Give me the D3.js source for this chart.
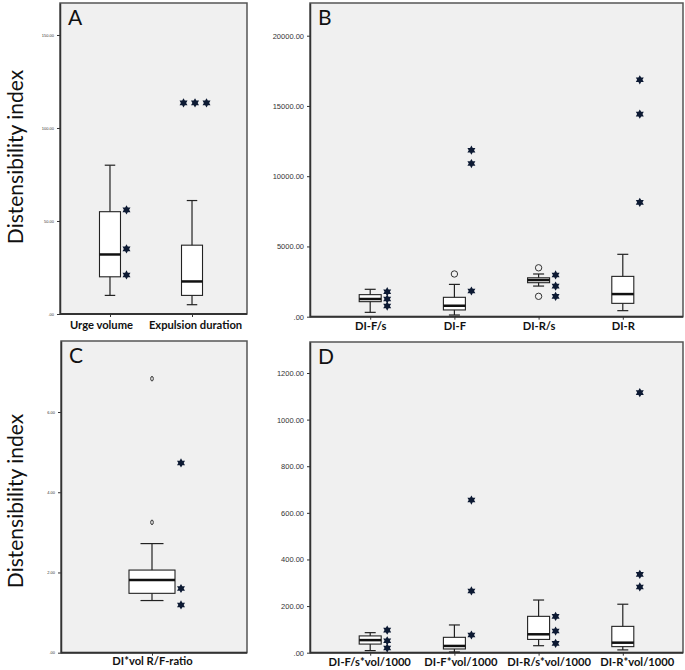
<!DOCTYPE html>
<html>
<head>
<meta charset="utf-8">
<script src="https://cdn.jsdelivr.net/npm/d3@7"></script>
<style>
  body { margin: 0; background: #fff; }
  svg { display: block; }
</style>
</head>
<body>
<div id="chart"></div>
<script>
// values: stats = [low whisker, Q1, median, Q3, high whisker]
const catsA = ["Urge volume", "Expulsion duration"];
const statsA = [[10, 20, 32, 55, 80], [5, 10, 17.5, 37, 61]];
const outliersA = [[], []];
const extremesA = [[56, 35, 21], [113.5, 113.5, 113.5]];
const ticksA = [0, 50, 100, 150];

const catsB = ["DI-F/s", "DI-F", "DI-R/s", "DI-R"];
const statsB = [[310, 1070, 1260, 1570, 1950], [120, 480, 780, 1380, 2300],
                [2180, 2420, 2610, 2770, 3040], [430, 950, 1610, 2870, 4440]];
const outliersB = [[], [3040], [3480, 1450], []];
const extremesB = [[1780, 1260, 760], [11850, 10900, 1830], [2970, 2180, 1450], [16860, 14420, 8140]];
const ticksB = [0, 5000, 10000, 15000, 20000];

const catsC = ["DI*vol R/F-ratio"];
const statsC = [[1.30, 1.48, 1.81, 2.06, 2.72]];
const outliersC = [[6.83, 3.25]];
const extremesC = [[4.73, 1.60, 1.19]];
const ticksC = [0, 2, 4, 6];

const catsD = ["DI-F/s*vol/1000", "DI-F*vol/1000", "DI-R/s*vol/1000", "DI-R*vol/1000"];
const statsD = [[9, 37, 54, 72, 86], [3, 16, 29, 66, 119], [30, 57, 79, 156, 226], [12, 26, 43, 113, 208]];
const outliersD = [[], [], [], []];
const extremesD = [[97, 51, 20], [655, 265, 76], [156, 93, 40], [1116, 336, 282]];
const ticksD = [0, 200, 400, 600, 800, 1000, 1200];

const W = 685, H = 670;
const svg = d3.select("#chart").append("svg").attr("width", W).attr("height", H);

// six-pointed star like the SPSS extreme marker
const hexagram = {
    draw(ctx, size) {
        const R = Math.sqrt(size) / 2, r = R / Math.sqrt(3);
        for (let i = 0; i < 12; i++) {
            const a = -Math.PI / 2 + i * Math.PI / 6;
            const rr = i % 2 ? r : R;
            if (i === 0) ctx.moveTo(rr * Math.cos(a), rr * Math.sin(a));
            else ctx.lineTo(rr * Math.cos(a), rr * Math.sin(a));
        }
        ctx.closePath();
    }
};

const fmt = v => d3.format(".2f")(v).replace(/^0\./, ".");

function drawPanel(p) {
    const g = svg.append("g");

    // panel background + frame
    g.append("rect")
        .attr("x", p.x0).attr("y", p.y0)
        .attr("width", p.x1 - p.x0).attr("height", p.yBase - p.y0)
        .attr("fill", "#f0f0f0").attr("stroke", "#555").attr("stroke-width", 1.5);

    const y = d3.scaleLinear().domain([0, p.yTop]).range([p.yBase, p.y0]);
    const x = d3.scalePoint().domain(p.cats).range(p.xr || [p.x0, p.x1]).padding(p.pad);

    // axes
    const ya = g.append("g").attr("transform", "translate(" + p.x0 + ",0)")
        .call(d3.axisLeft(y).tickValues(p.ticks).tickFormat(fmt).tickSize(3).tickSizeOuter(0));
    ya.select(".domain").attr("stroke", "#333").attr("stroke-width", 1.5);
    ya.selectAll(".tick line").attr("stroke", "#333");
    ya.selectAll("text").attr("fill", "#333")
        .style("font-family", "Liberation Sans, Arial, sans-serif")
        .style("font-size", p.tickFont + "px");

    const xa = g.append("g").attr("transform", "translate(0," + p.yBase + ")")
        .call(d3.axisBottom(x).tickSize(3).tickSizeOuter(0));
    xa.select(".domain").attr("d", "M" + p.x0 + ",0H" + p.x1)
        .attr("stroke", "#333").attr("stroke-width", 2);
    xa.selectAll(".tick line").attr("stroke", "#333");
    xa.selectAll("text").attr("dy", null).attr("y", p.labelY - p.yBase)
        .attr("dx", (d, i) => p.labelDx ? p.labelDx[i] : 0)
        .attr("fill", "#111")
        .style("font-family", "Lato, sans-serif")
        .style("font-weight", "bold")
        .style("font-size", "11.2px");

    const bw = p.boxW;
    const data = p.cats.map((c, i) => ({ c: c, s: p.stats[i], o: p.out[i], e: p.ext[i] }));
    const box = g.selectAll(".box").data(data).enter().append("g");

    // whiskers
    box.append("line")
        .attr("x1", d => x(d.c)).attr("x2", d => x(d.c))
        .attr("y1", d => y(d.s[4])).attr("y2", d => y(d.s[0]))
        .attr("stroke", "#222").attr("stroke-width", 1.2);
    [0, 4].forEach(k => {
        box.append("line")
            .attr("x1", d => x(d.c) - bw / 4).attr("x2", d => x(d.c) + bw / 4)
            .attr("y1", d => y(d.s[k])).attr("y2", d => y(d.s[k]))
            .attr("stroke", "#222").attr("stroke-width", 1.2);
    });
    box.append("rect")
        .attr("x", d => x(d.c) - bw / 2).attr("width", bw)
        .attr("y", d => y(d.s[3])).attr("height", d => y(d.s[1]) - y(d.s[3]))
        .attr("fill", "#fff").attr("stroke", "#222").attr("stroke-width", 1.1);
    box.append("line")
        .attr("x1", d => x(d.c) - bw / 2).attr("x2", d => x(d.c) + bw / 2)
        .attr("y1", d => y(d.s[2])).attr("y2", d => y(d.s[2]))
        .attr("stroke", "#111").attr("stroke-width", 2.5);

    // outliers (open circles)
    box.selectAll(".out").data(d => d.o.map(v => ({ c: d.c, v: v }))).enter()
        .append("ellipse")
        .attr("cx", d => x(d.c)).attr("cy", d => y(d.v))
        .attr("rx", p.circR[0]).attr("ry", p.circR[1])
        .attr("fill", "none").attr("stroke", "#333").attr("stroke-width", 1);

    // extremes (stars); equal values are spread sideways
    box.selectAll(".ext").data(d => {
        const groups = d3.group(d.e, v => v);
        const pts = [];
        groups.forEach(vals => {
            const n = vals.length;
            vals.forEach((v, i) => {
                const dx = n > 1 ? 3 + (i - (n - 1) / 2) * 11.5 : bw / 2 + 6;
                pts.push({ c: d.c, v: v, dx: dx });
            });
        });
        return pts;
    }).enter().append("path")
        .attr("transform", d => "translate(" + (x(d.c) + d.dx) + "," + y(d.v) + ")")
        .attr("d", d3.symbol().type(hexagram).size(p.starSize))
        .attr("fill", "#0d1a33");

    // panel letter
    g.append("text")
        .attr("x", p.x0 + 8).attr("y", p.y0 + 22)
        .style("font-family", "Lato, sans-serif").style("font-size", "21px")
        .attr("fill", "#111")
        .text(p.letter);
}

drawPanel({ letter: "A", cats: catsA, stats: statsA, out: outliersA, ext: extremesA, ticks: ticksA,
    x0: 60, x1: 247, xr: [57, 245], y0: 3, yBase: 314, yTop: 167.2, pad: 0.646, boxW: 21,
    tickFont: 4, labelY: 329, labelDx: [-9, 3], starSize: 85, circR: [3, 3] });
drawPanel({ letter: "B", cats: catsB, stats: statsB, out: outliersB, ext: extremesB, ticks: ticksB,
    x0: 310, x1: 683, y0: 3, yBase: 316.7, yTop: 22327, pad: 0.715, boxW: 22,
    tickFont: 7.5, labelY: 330, starSize: 85, circR: [3.2, 3.2] });
drawPanel({ letter: "C", cats: catsC, stats: statsC, out: outliersC, ext: extremesC, ticks: ticksC,
    x0: 61, x1: 247, xr: [61, 243], y0: 341, yBase: 652.7, yTop: 7.77, pad: 0.5, boxW: 46,
    tickFont: 4, labelY: 665, starSize: 85, circR: [1.3, 2.3] });
drawPanel({ letter: "D", cats: catsD, stats: statsD, out: outliersD, ext: extremesD, ticks: ticksD,
    x0: 310, x1: 683, y0: 342, yBase: 652.7, yTop: 1333, pad: 0.715, boxW: 22,
    tickFont: 7.5, labelY: 666, labelDx: [-1, 6, 10, 14], starSize: 85, circR: [3, 3] });

// shared y titles
[157, 501].forEach(cy => {
    svg.append("text")
        .attr("transform", "translate(23," + cy + ") rotate(-90)")
        .attr("text-anchor", "middle")
        .style("font-family", "Lato, sans-serif").style("font-size", "21px")
        .attr("fill", "#111")
        .text("Distensibility index");
});
</script>
</body>
</html>
